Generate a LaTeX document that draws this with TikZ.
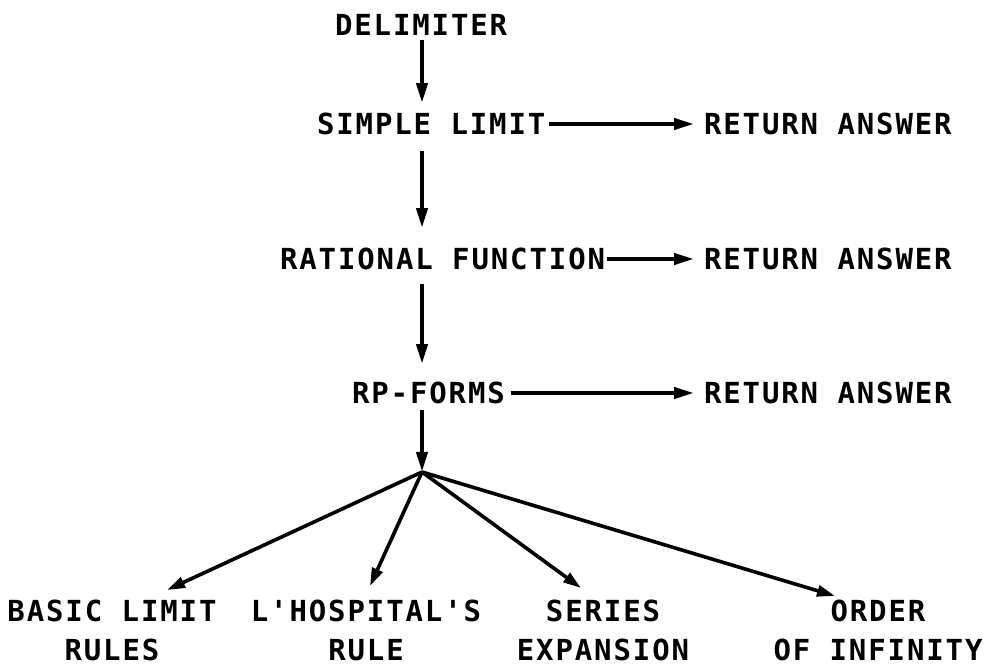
\documentclass[tikz,border=0pt]{standalone}
\usepackage{fontspec}
\newfontfamily\plotfont[LetterSpace=6.5]{DejaVu Sans Mono}
\usetikzlibrary{arrows.meta}

\begin{document}
\begin{tikzpicture}[x=0.5pt,y=-0.5pt,line width=2pt,
  every node/.style={font=\plotfont\bfseries\fontsize{14.5}{19.5}\selectfont,inner sep=0pt},
  stage/.style={anchor=west},
  leaf/.style={align=center},
  flow/.style={-{Triangle[length=10pt,width=5.5pt]}},
  fan/.style={line width=1.8pt,-{Triangle[length=9pt,width=5.5pt]}}]
  \useasboundingbox (0,0) rectangle (990,672);

  \node[stage] (delim) at (333,25) {DELIMITER};
  \node[stage] (simple) at (315,124) {SIMPLE LIMIT};
  \node[stage] (rational) at (278,259) {RATIONAL FUNCTION};
  \node[stage] (rp) at (350,393) {RP-FORMS};

  \node[stage] (ret1) at (702,124) {RETURN ANSWER};
  \node[stage] (ret2) at (702,259) {RETURN ANSWER};
  \node[stage] (ret3) at (702,393) {RETURN ANSWER};

  \coordinate (hub) at (422,472);

  \node[leaf] (basic) at (112,630) {BASIC LIMIT\\RULES};
  \node[leaf] (lhosp) at (366,630) {L'HOSPITAL'S\\RULE};
  \node[leaf] (series) at (603,630) {SERIES\\EXPANSION};
  \node[leaf] (order) at (878,630) {ORDER\\OF INFINITY};

  % tips of the fan arrows
  \coordinate (basic tip) at (167,590);
  \coordinate (lhosp tip) at (370,586);
  \coordinate (series tip) at (581,588);
  \coordinate (order tip) at (835,596);

  \draw[flow,shorten <=1pt,shorten >=4pt] (delim.south -| hub) -- (simple.north -| hub);
  \draw[flow,shorten <=7pt,shorten >=9pt] (simple.south -| hub) -- (rational.north -| hub);
  \draw[flow,shorten <=6pt,shorten >=8pt] (rational.south -| hub) -- (rp.north -| hub);
  \draw[flow,shorten <=2pt] (rp.south -| hub) -- (hub);

  \draw[flow,shorten <=1pt,shorten >=4pt] (simple) -- (ret1);
  \draw[flow,shorten <=0pt,shorten >=4pt] (rational) -- (ret2);
  \draw[flow,shorten <=2pt,shorten >=4pt] (rp) -- (ret3);

  \draw[fan] (hub) -- (basic tip);
  \draw[fan] (hub) -- (lhosp tip);
  \draw[fan] (hub) -- (series tip);
  \draw[fan] (hub) -- (order tip);
\end{tikzpicture}
\end{document}
